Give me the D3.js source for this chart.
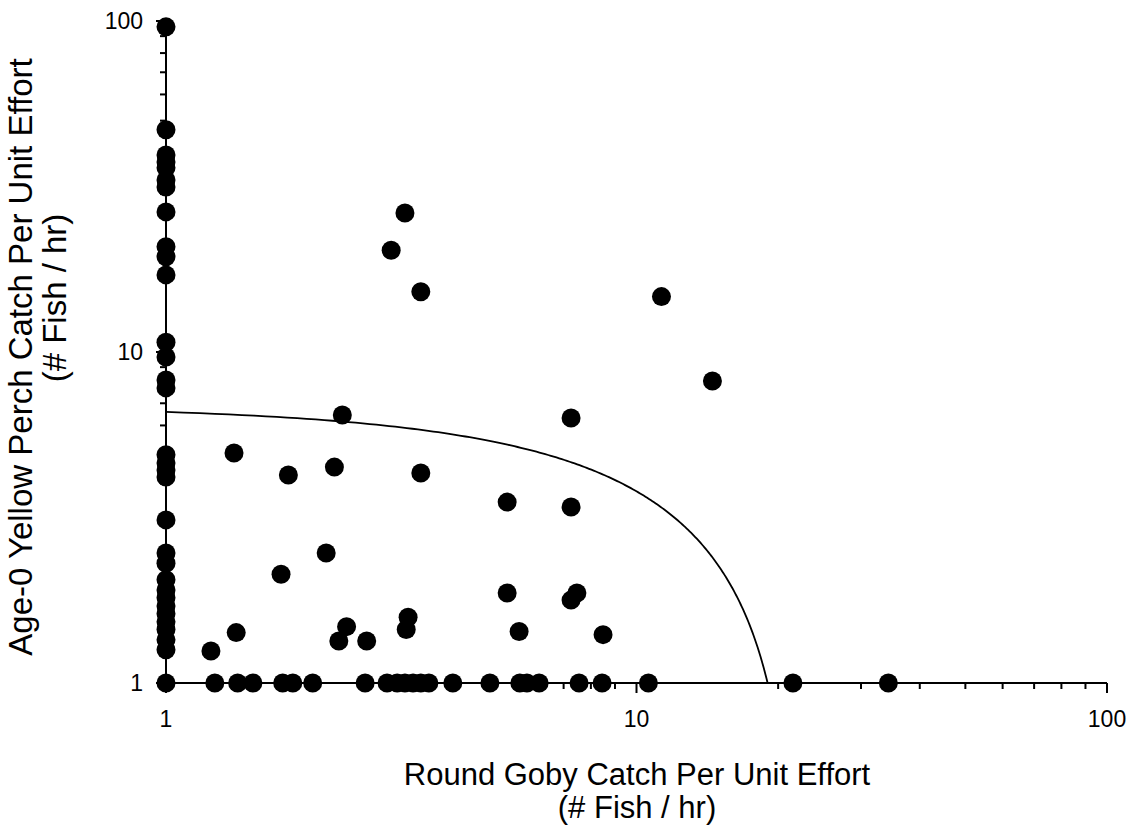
<!DOCTYPE html>
<html>
<head>
<meta charset="utf-8">
<script src="https://cdn.jsdelivr.net/npm/d3@7"></script>
<style>
  html, body { margin: 0; padding: 0; background: #fff; }
  svg text { font-family: "Liberation Sans", Arial, sans-serif; fill: #000; }
</style>
</head>
<body>
<svg id="chart" width="1137" height="831"></svg>
<script>
// Round goby CPUE (x) vs age-0 yellow perch CPUE (y), catch per hour
const gobyCPUE = [
  1, 1, 1, 1, 1, 1, 1, 1, 1, 1, 1, 1, 1, 1, 1, 1, 1, 1, 1, 1, 1, 1, 1, 1, 1, 1, 1, 1, 1, 1, 1, 1,
  2.37, 1.395, 1.82, 2.28, 3.48, 2.19, 1.756, 1.41, 1.246, 2.42, 2.33, 2.67, 3.27, 3.24,
  3.01, 3.22, 3.48, 11.3, 14.5, 7.26, 5.31, 7.26, 5.31, 7.47, 7.26, 5.63, 8.49,
  1.27, 1.42, 1.53, 1.77, 1.86, 2.05, 2.65, 2.95, 3.10, 3.22, 3.35, 3.48, 3.62, 4.07,
  4.88, 5.65, 5.85, 6.21, 7.55, 8.45, 10.6, 21.5, 34.3
];
const perchCPUE = [
  96, 46.9, 39.4, 37.5, 36, 33.1, 31.5, 26.5, 20.8, 19.4, 17.1, 10.7, 9.66, 8.23, 7.79,
  4.89, 4.62, 4.40, 4.19, 3.11, 2.47, 2.30, 2.05, 1.91, 1.81, 1.71, 1.62, 1.53, 1.45, 1.35, 1.26, 1,
  6.45, 4.95, 4.25, 4.49, 4.31, 2.47, 2.13, 1.42, 1.25, 1.48, 1.34, 1.34, 1.58, 1.45,
  20.3, 26.3, 15.2, 14.7, 8.17, 6.32, 3.52, 3.40, 1.87, 1.87, 1.78, 1.43, 1.40,
  1, 1, 1, 1, 1, 1, 1, 1, 1, 1, 1, 1, 1, 1,
  1, 1, 1, 1, 1, 1, 1, 1, 1
];
const xTickLabels = [1, 10, 100];
const yTickLabels = [1, 10, 100];
// Fitted linear relationship: perch = fitIntercept - fitSlope * goby
const fitIntercept = 6.90;
const fitSlope = 0.3106;

const svg = d3.select("#chart");
const plotLeft = 166, plotRight = 1107, plotTop = 21, plotBottom = 683;

const x = d3.scaleLog().domain([1, 100]).range([plotLeft, plotRight]);
const y = d3.scaleLog().domain([1, 100]).range([plotBottom, plotTop]);

// minor + major tick values for a log axis
const allTicks = [];
for (let d = 1; d < 100; d *= 10) for (let k = 1; k < 10; k++) allTicks.push(d * k);
allTicks.push(100);

// X axis
const xg = svg.append("g");
xg.append("line").attr("x1", plotLeft).attr("x2", plotRight).attr("y1", plotBottom).attr("y2", plotBottom)
  .attr("stroke", "#000").attr("stroke-width", 2);
xg.selectAll("line.tk").data(allTicks).join("line").attr("class", "tk")
  .attr("x1", d => x(d)).attr("x2", d => x(d))
  .attr("y1", plotBottom).attr("y2", d => plotBottom + (xTickLabels.includes(d) ? 10 : 6))
  .attr("stroke", "#000").attr("stroke-width", 2);
xg.selectAll("text").data(xTickLabels).join("text")
  .attr("x", d => x(d)).attr("y", plotBottom + 44)
  .attr("text-anchor", "middle").attr("font-size", 23).text(d => d);

// Y axis
const yg = svg.append("g");
yg.append("line").attr("x1", plotLeft).attr("x2", plotLeft).attr("y1", plotTop).attr("y2", plotBottom)
  .attr("stroke", "#000").attr("stroke-width", 2);
yg.selectAll("line.tk").data(allTicks).join("line").attr("class", "tk")
  .attr("y1", d => y(d)).attr("y2", d => y(d))
  .attr("x1", plotLeft).attr("x2", d => plotLeft - (yTickLabels.includes(d) ? 10 : 6))
  .attr("stroke", "#000").attr("stroke-width", 2);
yg.selectAll("text").data(yTickLabels).join("text")
  .attr("x", 143).attr("y", d => y(d) + 8)
  .attr("text-anchor", "end").attr("font-size", 23).text(d => d);

// Axis titles
svg.append("text").attr("x", 637).attr("y", 785).attr("text-anchor", "middle")
  .attr("font-size", 31).text("Round Goby Catch Per Unit Effort");
svg.append("text").attr("x", 637).attr("y", 818).attr("text-anchor", "middle")
  .attr("font-size", 31).text("(# Fish / hr)");
svg.append("text").attr("transform", "translate(32,357) rotate(-90)")
  .attr("text-anchor", "middle")
  .attr("font-size", 33).text("Age-0 Yellow Perch Catch Per Unit Effort");
svg.append("text").attr("transform", "translate(66,298) rotate(-90)")
  .attr("text-anchor", "middle")
  .attr("font-size", 33).text("(# Fish / hr)");

// Fitted curve, drawn until it meets the bottom of the y range
const xEnd = (fitIntercept - 1) / fitSlope;
const curvePts = d3.range(0, 201).map(i => {
  const gx = 1 + (xEnd - 1) * i / 200;
  return [gx, fitIntercept - fitSlope * gx];
});
svg.append("path")
  .attr("d", d3.line().x(d => x(d[0])).y(d => y(d[1]))(curvePts))
  .attr("fill", "none").attr("stroke", "#000").attr("stroke-width", 1.8);

// Points
const pts = gobyCPUE.map((g, i) => ({ g, p: perchCPUE[i] }));
svg.append("g").selectAll("circle").data(pts).join("circle")
  .attr("cx", d => x(d.g)).attr("cy", d => y(d.p)).attr("r", 9.5)
  .attr("fill", "#000");
</script>
</body>
</html>
